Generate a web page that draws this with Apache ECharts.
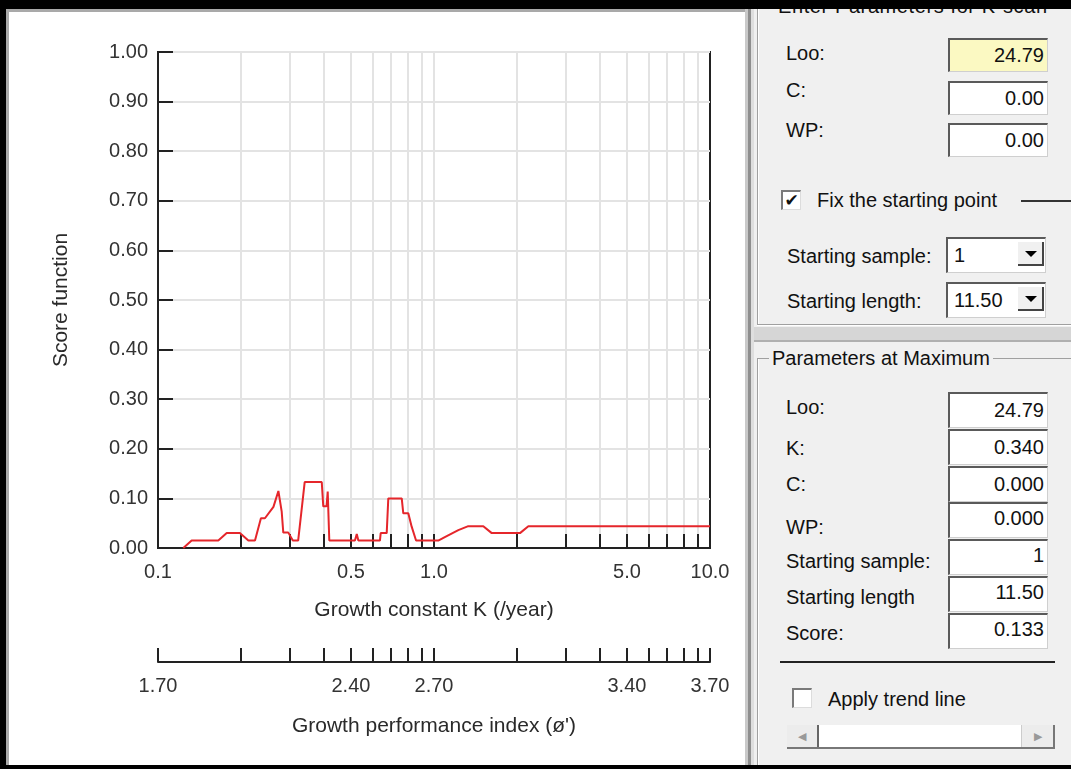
<!DOCTYPE html>
<html>
<head>
<meta charset="utf-8">
<script src="https://cdn.jsdelivr.net/npm/echarts@6/dist/echarts.min.js"></script>
<style>
  html, body { margin: 0; padding: 0; }
  body { width: 1071px; height: 769px; overflow: hidden; position: relative; background: #fff;
         font-family: "Liberation Sans", Arial, sans-serif; color: #111; }
  #chart { position: absolute; left: 0; top: 0; width: 1071px; height: 769px; }
  .abs { position: absolute; }
  .blk { position: absolute; background: #000; z-index: 5; }
  .panel { position: absolute; left: 748px; top: 9px; width: 323px; height: 756px; background: #f0f0f0; }
  .lbl { position: absolute; font-size: 20px; line-height: 24px; white-space: nowrap; }
  .box { position: absolute; width: 100px; height: 34px; background: #fff; box-sizing: border-box;
         border-top: 2px solid #5a5a5a; border-left: 2px solid #5a5a5a;
         border-right: 1px solid #cfcfcf; border-bottom: 1px solid #cfcfcf;
         font-size: 20px; line-height: 30px; text-align: right; padding-right: 3px; }
  .combo { text-align: left; padding-left: 6px; }
  .btn { position: absolute; right: 1px; top: 3px; width: 26px; height: 24px; background: #f0f0f0;
         border-right: 2px solid #444; border-bottom: 2px solid #444; box-sizing: border-box; }
  .tri { position: absolute; left: 7px; top: 9px; width: 0; height: 0;
         border-left: 6px solid transparent; border-right: 6px solid transparent; border-top: 6px solid #000; }
  .chk { position: absolute; width: 20px; height: 20px; background: #fff; box-sizing: border-box;
         border-top: 2px solid #7a7a7a; border-left: 2px solid #7a7a7a;
         border-right: 1px solid #dcdcdc; border-bottom: 1px solid #dcdcdc;
         font-family: "DejaVu Sans", sans-serif; font-size: 17px; line-height: 17px; text-align: center; font-weight: bold; }
</style>
</head>
<body>
<div id="chart"></div>

<!-- window frame -->
<div class="blk" style="left:0;top:0;width:1071px;height:9px;"></div>
<div class="blk" style="left:0;top:0;width:6px;height:769px;"></div>
<div class="blk" style="left:0;top:765px;width:1071px;height:4px;"></div>
<div class="abs" style="left:6px;top:9px;width:740px;height:3px;background:#a9a9a9;"></div>
<div class="abs" style="left:6px;top:9px;width:3px;height:756px;background:#a9a9a9;"></div>

<!-- right hand parameter panel -->
<div class="panel"></div>
<div class="abs" style="left:745px;top:9px;width:3px;height:756px;background:#c9c9c9;"></div>
<div class="abs" style="left:748px;top:9px;width:3px;height:756px;background:#8e8e8e;"></div>
<div class="abs" style="left:751px;top:9px;width:3px;height:756px;background:#dedede;"></div>

<!-- group 1 -->
<div class="abs" style="left:757px;top:9px;width:1px;height:316px;background:#a0a0a0;"></div>
<div class="abs" style="left:758px;top:9px;width:1px;height:316px;background:#fff;"></div>
<div class="abs" style="left:757px;top:324px;width:314px;height:1px;background:#a0a0a0;"></div>
<div class="abs" style="left:757px;top:325px;width:314px;height:1px;background:#fff;"></div>
<div class="lbl" style="left:775px;top:-6px;letter-spacing:0.6px;background:#f0f0f0;padding:0 3px;">Enter Parameters for K-scan</div>

<div class="lbl" style="left:786px;top:41px;">Loo:</div>
<div class="box" style="left:948px;top:38px;background:#fbf9c2;">24.79</div>
<div class="lbl" style="left:786px;top:78px;">C:</div>
<div class="box" style="left:948px;top:81px;">0.00</div>
<div class="lbl" style="left:786px;top:118px;">WP:</div>
<div class="box" style="left:948px;top:123px;">0.00</div>

<div class="chk" style="left:781px;top:190px;">✔</div>
<div class="lbl" style="left:817px;top:188px;">Fix the starting point</div>
<div class="abs" style="left:1021px;top:200px;width:50px;height:2px;background:#333;"></div>

<div class="lbl" style="left:787px;top:244px;">Starting sample:</div>
<div class="box combo" style="left:946px;top:237px;height:36px;line-height:32px;">1<div class="btn"><div class="tri"></div></div></div>
<div class="lbl" style="left:787px;top:289px;">Starting length:</div>
<div class="box combo" style="left:946px;top:282px;height:36px;line-height:32px;">11.50<div class="btn"><div class="tri"></div></div></div>

<!-- separator -->
<div class="abs" style="left:754px;top:327px;width:317px;height:13px;background:#d6d6d6;"></div>
<div class="abs" style="left:754px;top:340px;width:317px;height:2px;background:#b0b0b0;"></div>

<!-- group 2 -->
<div class="abs" style="left:757px;top:358px;width:314px;height:1px;background:#a0a0a0;"></div>
<div class="abs" style="left:757px;top:358px;width:1px;height:407px;background:#a0a0a0;"></div>
<div class="abs" style="left:758px;top:359px;width:1px;height:406px;background:#fff;"></div>
<div class="lbl" style="left:769px;top:346px;background:#f0f0f0;padding:0 3px;">Parameters at Maximum</div>

<div class="lbl" style="left:786px;top:395px;">Loo:</div>
<div class="box" style="left:948px;top:392px;height:36px;line-height:32px;">24.79</div>
<div class="lbl" style="left:786px;top:436px;">K:</div>
<div class="box" style="left:948px;top:429px;height:36px;line-height:32px;">0.340</div>
<div class="lbl" style="left:786px;top:472px;">C:</div>
<div class="box" style="left:948px;top:466px;height:36px;line-height:32px;">0.000</div>
<div class="lbl" style="left:786px;top:515px;">WP:</div>
<div class="box" style="left:948px;top:502px;height:36px;line-height:28px;">0.000</div>
<div class="lbl" style="left:786px;top:549px;">Starting sample:</div>
<div class="box" style="left:948px;top:539px;height:36px;line-height:28px;">1</div>
<div class="lbl" style="left:786px;top:585px;">Starting length</div>
<div class="box" style="left:948px;top:576px;height:36px;line-height:28px;">11.50</div>
<div class="lbl" style="left:786px;top:621px;">Score:</div>
<div class="box" style="left:948px;top:613px;height:36px;line-height:28px;">0.133</div>

<div class="abs" style="left:780px;top:661px;width:275px;height:2px;background:#222;"></div>

<div class="chk" style="left:792px;top:688px;"></div>
<div class="lbl" style="left:828px;top:687px;">Apply trend line</div>

<div class="abs" style="left:787px;top:725px;width:268px;height:24px;background:#fff;box-sizing:border-box;border-bottom:2px solid #777;border-right:2px solid #777;"></div>
<div class="abs" style="left:787px;top:725px;width:32px;height:22px;background:#ececec;box-sizing:border-box;border-right:2px solid #666;font-size:11px;line-height:22px;text-align:center;color:#999;">◀</div>
<div class="abs" style="left:1021px;top:725px;width:32px;height:22px;background:#ececec;box-sizing:border-box;border-left:1px solid #ccc;font-size:11px;line-height:22px;text-align:center;color:#999;">▶</div>

<script>
// score curve
const kValues = [0.1235, 0.1324, 0.1654, 0.1774, 0.198, 0.2125, 0.2246, 0.236, 0.244, 0.262, 0.273,
  0.2806, 0.2844, 0.2966, 0.308, 0.322, 0.336, 0.340, 0.392, 0.397, 0.408, 0.412, 0.4175,
  0.517, 0.525, 0.532, 0.637, 0.641, 0.674, 0.683, 0.764, 0.774, 0.807, 0.830, 0.861,
  1.036, 1.112, 1.225, 1.331, 1.509, 1.619, 2.049, 2.197, 10];
const scoreValues = [0.000, 0.015, 0.015, 0.030, 0.030, 0.015, 0.015, 0.060, 0.060, 0.083, 0.115,
  0.074, 0.031, 0.031, 0.015, 0.015, 0.107, 0.133, 0.133, 0.084, 0.084, 0.114, 0.015,
  0.015, 0.028, 0.015, 0.015, 0.030, 0.030, 0.100, 0.100, 0.070, 0.070, 0.043, 0.015,
  0.015, 0.024, 0.036, 0.044, 0.044, 0.030, 0.030, 0.044, 0.044];

// axes
const kGridValues = [0.2, 0.3, 0.4, 0.5, 0.6, 0.7, 0.8, 0.9, 1, 2, 3, 4, 5, 6, 7, 8, 9];
const kEdgeTicks = [0.1, 0.2, 0.3, 0.4, 0.5, 0.6, 0.7, 0.8, 0.9, 1, 2, 3, 4, 5, 6, 7, 8, 9, 10];
const kLabelValues = [0.1, 0.5, 1, 5, 10];
const kLabels = ['0.1', '0.5', '1.0', '5.0', '10.0'];
const phiLabels = ['1.70', '2.40', '2.70', '3.40', '3.70'];

function nearestIdx(v) {
  let best = 0, d = Infinity;
  kLabelValues.forEach(function (k, i) {
    const dd = Math.abs(Math.log10(v) - Math.log10(k));
    if (dd < d) { d = dd; best = i; }
  });
  return best;
}

const axisColor = '#222';
const labelColor = '#333';

let mychart = echarts.init(document.getElementById('chart'));
mychart.setOption({
  animation: false,
  textStyle: { fontFamily: 'Liberation Sans, Arial, sans-serif' },
  grid: [
    { left: 158, top: 52, width: 552, height: 496, show: true, borderColor: axisColor, borderWidth: 2, backgroundColor: '#fff' },
    { left: 158, top: 648, width: 552, height: 14 }
  ],
  xAxis: [
    {
      type: 'log', gridIndex: 0, logBase: 10, min: 0.1, max: 10,
      name: 'Growth constant K (/year)', nameLocation: 'middle', nameGap: 52,
      nameTextStyle: { fontSize: 21, color: '#2a2a2a' },
      axisLine: { show: true, lineStyle: { color: axisColor, width: 2 } },
      axisTick: { show: true, inside: true, length: 14, customValues: kGridValues, lineStyle: { color: axisColor, width: 2 } },
      axisLabel: { customValues: kLabelValues, fontSize: 20, color: labelColor, margin: 14,
        formatter: function (v) { return kLabels[nearestIdx(v)]; } },
      splitLine: { show: true, lineStyle: { color: '#e3e3e3', width: 2 } },
      minorTick: { show: false }
    },
    {
      type: 'log', gridIndex: 1, logBase: 10, min: 0.1, max: 10,
      name: 'Growth performance index (ø\')', nameLocation: 'middle', nameGap: 54,
      nameTextStyle: { fontSize: 21, color: '#2a2a2a' },
      axisLine: { show: true, lineStyle: { color: axisColor, width: 2 } },
      axisTick: { show: true, inside: true, length: 14, customValues: kEdgeTicks, lineStyle: { color: axisColor, width: 2 } },
      axisLabel: { customValues: kLabelValues, fontSize: 20, color: labelColor, margin: 14,
        formatter: function (v) { return phiLabels[nearestIdx(v)]; } },
      splitLine: { show: false }
    }
  ],
  yAxis: [
    {
      type: 'value', gridIndex: 0, min: 0, max: 1, interval: 0.1,
      name: 'Score function', nameLocation: 'middle', nameGap: 86, nameRotate: 90,
      nameTextStyle: { fontSize: 21, color: '#2a2a2a' },
      axisLine: { show: true, lineStyle: { color: axisColor, width: 2 } },
      axisTick: { show: true, inside: true, length: 15, lineStyle: { color: axisColor, width: 2 } },
      axisLabel: { fontSize: 20, color: labelColor, margin: 10, formatter: function (v) { return v.toFixed(2); } },
      splitLine: { show: true, lineStyle: { color: '#e3e3e3', width: 2 } }
    },
    { type: 'value', gridIndex: 1, min: 0, max: 1, show: false }
  ],
  series: [
    {
      name: 'Score', type: 'line', xAxisIndex: 0, yAxisIndex: 0,
      data: kValues.map(function (k, i) { return [k, scoreValues[i]]; }),
      symbol: 'none',
      lineStyle: { color: '#e5262b', width: 2 },
      z: 5
    }
  ]
});
</script>
</body>
</html>
